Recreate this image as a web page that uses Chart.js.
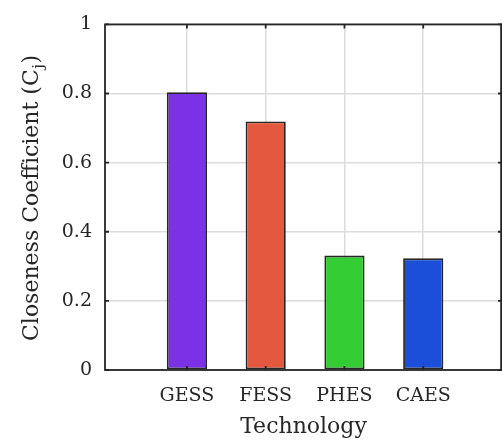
<!DOCTYPE html>
<html>
<head>
<meta charset="utf-8">
<script src="https://cdn.jsdelivr.net/npm/chart.js@4.4.0/dist/chart.umd.min.js"></script>
<style>
  html, body { margin: 0; padding: 0; background: #fff; }
  #wrap { width: 502px; height: 440px; }
</style>
</head>
<body>
<div id="wrap"><canvas id="myChart"></canvas></div>
<script>
const ctx = document.getElementById('myChart');

// data
let technologies = ['GESS', 'FESS', 'PHES', 'CAES']
let closeness = [0.804, 0.719, 0.331, 0.323]
let barColors = ['#7b31e6', '#e4583f', '#33cc33', '#1b4fd9']
let yTicks = [0, 0.2, 0.4, 0.6, 0.8, 1]

const ink = '#262626'
const serif = "'DejaVu Serif', serif"

// box, inward tick marks and axis titles (matlab style)
const frame = {
  id: 'frame',
  afterDraw(chart) {
    const c = chart.ctx
    const a = chart.chartArea
    const xs = chart.scales.x, ys = chart.scales.y
    c.save()
    c.strokeStyle = ink
    c.lineWidth = 1.8
    c.beginPath()
    xs.ticks.forEach(t => {
      const px = xs.getPixelForValue(t.value)
      c.moveTo(px, a.bottom); c.lineTo(px, a.bottom - 4)
      c.moveTo(px, a.top); c.lineTo(px, a.top + 4)
    })
    ys.ticks.forEach(t => {
      const py = ys.getPixelForValue(t.value)
      c.moveTo(a.left, py); c.lineTo(a.left + 4, py)
      c.moveTo(a.right, py); c.lineTo(a.right - 4, py)
    })
    c.stroke()
    c.strokeRect(a.left, a.top, a.right - a.left - 0.9, a.bottom - a.top)

    c.fillStyle = ink
    // x title
    c.font = '22px ' + serif
    c.textAlign = 'center'
    c.textBaseline = 'alphabetic'
    c.fillText('Technology', (a.left + a.right) / 2, 433)

    // y title with subscript j
    const main = 'Closeness Coefficient (C'
    c.font = '22px ' + serif
    const w1 = c.measureText(main).width
    const w3 = c.measureText(')').width
    c.font = '15px ' + serif
    const w2 = c.measureText('j').width + 1
    const total = w1 + w2 + w3
    c.translate(38, 198)
    c.rotate(-Math.PI / 2)
    c.textAlign = 'left'
    let x0 = -total / 2
    c.font = '22px ' + serif
    c.fillText(main, x0, 0)
    c.font = '15px ' + serif
    c.fillText('j', x0 + w1 + 0.5, 5)
    c.font = '22px ' + serif
    c.fillText(')', x0 + w1 + w2, 0)
    c.restore()
  }
}

let chart_cc = new Chart(ctx, {
  type: 'bar',
  data: {
    datasets: [{
      label: 'Closeness Coefficient',
      data: closeness.map((v, i) => ({ x: i + 1, y: v })),
      backgroundColor: barColors,
      borderColor: ink,
      borderWidth: 1.8,
      borderSkipped: false,
      categoryPercentage: 1,
      barPercentage: 0.51
    }]
  },
  options: {
    responsive: true,
    maintainAspectRatio: false,
    animation: false,
    layout: { padding: { top: 24, right: 0, left: 0, bottom: 0 } },
    plugins: { legend: { display: false }, tooltip: { enabled: false } },
    scales: {
      x: {
        type: 'linear',
        offset: false,
        min: -0.04,
        max: 5,
        afterBuildTicks: s => { s.ticks = technologies.map((t, i) => ({ value: i + 1 })) },
        afterFit: s => { s.height = 70 },
        border: { display: false },
        grid: { color: '#dcdcdc', lineWidth: 1.5, drawTicks: false, offset: false },
        ticks: {
          color: ink,
          font: { family: serif, size: 19 },
          padding: 15,
          maxRotation: 0,
          autoSkip: false,
          callback: v => technologies[v - 1]
        }
      },
      y: {
        min: 0,
        max: 1,
        afterBuildTicks: s => { s.ticks = yTicks.map(v => ({ value: v })) },
        afterFit: s => { s.width = 105 },
        border: { display: false },
        grid: { color: '#dcdcdc', lineWidth: 1.5, drawTicks: false },
        ticks: {
          color: ink,
          font: { family: serif, size: 19 },
          padding: 13,
          callback: v => String(v)
        }
      }
    }
  },
  plugins: [frame]
});
</script>
</body>
</html>
